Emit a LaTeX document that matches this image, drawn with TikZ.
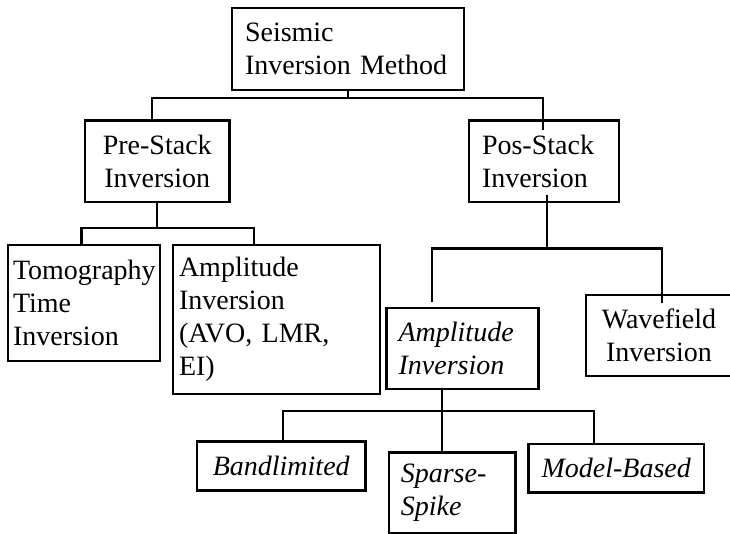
\documentclass[tikz,border=0pt]{standalone}
\usepackage{fontspec}
\setmainfont{Liberation Serif}
\begin{document}
\begin{tikzpicture}[x=1pt,y=-1pt,
  box/.style={draw=black, line width=2.6pt, rectangle, inner ysep=0pt,
    font=\fontsize{28}{33}\selectfont},
  ital/.style={font=\fontsize{28}{33}\selectfont\itshape},
  link/.style={draw=black, line width=2.2pt}]
\useasboundingbox (0,0) rectangle (730,534);
\clip (0,0) rectangle (730,534);

% level 0
\node[box, minimum width=232pt, minimum height=82pt, text width=206pt,
  inner xsep=13pt, align=left] (top) at (348,49) {Seismic\\Inversion Method};

% level 1
\node[box, minimum width=144.5pt, minimum height=81.3pt, text width=130pt,
  inner xsep=7.25pt, align=center] (pre) at (157.25,161.35) {Pre-Stack\\Inversion};
\node[box, minimum width=150pt, minimum height=81.3pt, text width=124pt,
  inner xsep=13pt, align=left] (pos) at (544,161.35) {Pos-Stack\\Inversion};

% level 2, pre-stack branch
\node[box, minimum width=152pt, minimum height=116pt, text width=142pt,
  inner xsep=5pt, align=left] (tomo) at (84,303) {\mbox{Tomography}\\Time\\Inversion};
\node[box, minimum width=207pt, minimum height=149pt, text width=195pt,
  inner xsep=6pt, align=left] (ampl) at (276.5,319.5) {Amplitude\\Inversion\\(AVO, LMR,\\EI)};

% level 2, post-stack branch
\node[box, ital, minimum width=152pt, minimum height=81pt, text width=128pt,
  inner xsep=12pt, align=left] (ai) at (462.6,348.5) {Amplitude\\Inversion};
\node[box, minimum width=146pt, minimum height=81pt, text width=130pt,
  inner xsep=8pt, align=center] (wave) at (659,335.5) {Wavefield\\Inversion};

% level 3
\node[box, ital, minimum width=168.5pt, minimum height=49pt, text width=150pt,
  inner xsep=9.25pt, align=center] (band) at (281.25,466.2) {Bandlimited};
\node[box, ital, minimum width=126.6pt, minimum height=80.3pt, text width=102.6pt,
  inner xsep=12pt, align=left] (sparse) at (452.1,492.85) {Sparse-\\Spike};
\node[box, ital, minimum width=175.5pt, minimum height=48.7pt, text width=160pt,
  inner xsep=7.75pt, align=center] (model) at (616.25,468.35) {Model-Based};

% bus under the root
\coordinate (busA-l) at (152,98.3);
\coordinate (busA-r) at (543,98.3);
\coordinate (posIn) at (543,130);
\draw[link] (top.south) -- (top.south |- busA-l);
\draw[link] (pre.north -| busA-l) -- (busA-l) -- (busA-r) -- (posIn);

% bus under pre-stack
\coordinate (busB-l) at (81.5,228);
\coordinate (busB-r) at (253.7,228);
\draw[link] (pre.south) -- (pre.south |- busB-l);
\draw[link] (tomo.north -| busB-l) -- (busB-l) -- (busB-r) -- (ampl.north -| busB-r);

% bus under pos-stack
\coordinate (posOut) at (547,195);
\coordinate (busC-l) at (432,248.5);
\coordinate (busC-r) at (662.3,248.5);
\coordinate (aiStub) at (432,302);
\coordinate (waveIn) at (662.3,302.7);
\draw[link] (posOut) -- (posOut |- busC-l);
\draw[link] (aiStub) -- (busC-l) -- (busC-r) -- (waveIn);

% bus under the amplitude inversion
\coordinate (busD-l) at (283,410.7);
\coordinate (busD-m) at (441.7,410.7);
\coordinate (busD-r) at (593.6,410.7);
\draw[link] (ai.south -| busD-m) -- (sparse.north -| busD-m);
\draw[link] (band.north -| busD-l) -- (busD-l) -- (busD-r) -- (model.north -| busD-r);
\end{tikzpicture}
\end{document}
